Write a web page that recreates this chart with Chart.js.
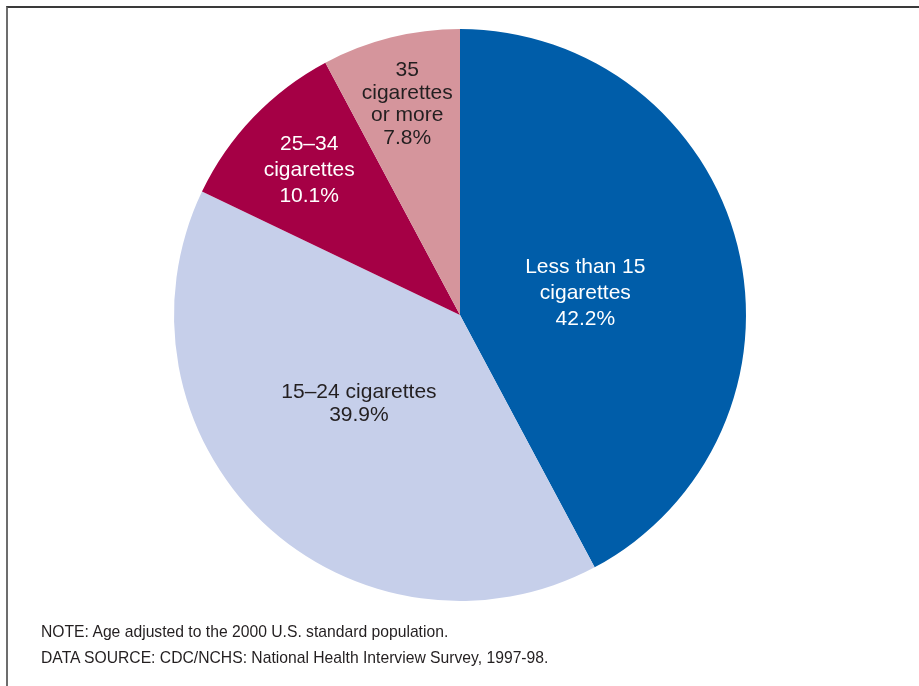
<!DOCTYPE html>
<html>
<head>
<meta charset="utf-8">
<script src="https://cdn.jsdelivr.net/npm/chart.js@4/dist/chart.umd.min.js"></script>
<style>
    html, body { margin: 0; padding: 0; background: #fff; }
    #wrap { position: relative; width: 919px; height: 686px; overflow: hidden; }
    #frame {
        position: absolute; left: 6px; top: 6px; width: 1000px; height: 800px;
        border-left: 2px solid #6d6d6d; border-top: 2px solid #3a3a3a;
    }
    canvas { position: absolute; left: 0; top: 0; }
    .note {
        position: absolute; left: 41px; font-family: "Liberation Sans", Arial, Helvetica, sans-serif;
        font-size: 15.7px; color: #231f20; white-space: nowrap;
    }
</style>
</head>
<body>
<div id="wrap">
    <div id="frame"></div>
    <canvas id="pieChart" width="919" height="686"></canvas>
    <div class="note" style="top: 623px;">NOTE: Age adjusted to the 2000 U.S. standard population.</div>
    <div class="note" style="top: 649px;">DATA SOURCE: CDC/NCHS: National Health Interview Survey, 1997-98.</div>
</div>
<script>
// Chart data
const categories = [
    ['Less than 15', 'cigarettes'],
    ['15\u201324 cigarettes'],
    ['25\u201334', 'cigarettes'],
    ['35', 'cigarettes', 'or more']
];
const percentages = [42.2, 39.9, 10.1, 7.8];

const sliceColors = ['#005da9', '#c6cfea', '#a50045', '#d5959c'];
const labelColors = ['#ffffff', '#231f20', '#ffffff', '#231f20'];

// Where each label sits inside its slice (fraction of radius, angle shift in degrees)
const labelRadius = [0.445, 0.47, 0.73, 0.76];
const labelShift = [4, 5, 0, 0];
const labelLineHeight = [26, 23, 26, 22.5];

// Draws the labels inside the slices
const sliceLabels = {
    id: 'sliceLabels',
    afterDatasetsDraw(chart) {
        const ctx = chart.ctx;
        const meta = chart.getDatasetMeta(0);
        ctx.save();
        ctx.font = '21px "Liberation Sans", Arial, Helvetica, sans-serif';
        ctx.textAlign = 'center';
        ctx.textBaseline = 'middle';
        meta.data.forEach((arc, i) => {
            const p = arc.getProps(['x', 'y', 'startAngle', 'endAngle', 'outerRadius'], true);
            const a = (p.startAngle + p.endAngle) / 2 + labelShift[i] * Math.PI / 180;
            const r = p.outerRadius * labelRadius[i];
            const cx = p.x + Math.cos(a) * r;
            const cy = p.y + Math.sin(a) * r;
            const lines = categories[i].concat([percentages[i].toFixed(1) + '%']);
            const lh = labelLineHeight[i];
            const top = cy - (lines.length - 1) * lh / 2;
            ctx.fillStyle = labelColors[i];
            lines.forEach((line, j) => ctx.fillText(line, cx, top + j * lh));
        });
        ctx.restore();
    }
};

new Chart(document.getElementById('pieChart').getContext('2d'), {
    type: 'pie',
    data: {
        labels: categories.map(c => c.join(' ')),
        datasets: [{
            data: percentages,
            backgroundColor: sliceColors,
            borderWidth: 0
        }]
    },
    options: {
        responsive: false,
        animation: false,
        layout: {
            padding: { left: 174, right: 173, top: 29, bottom: 85 }
        },
        plugins: {
            legend: { display: false },
            tooltip: { enabled: false }
        }
    },
    plugins: [sliceLabels]
});
</script>
</body>
</html>
